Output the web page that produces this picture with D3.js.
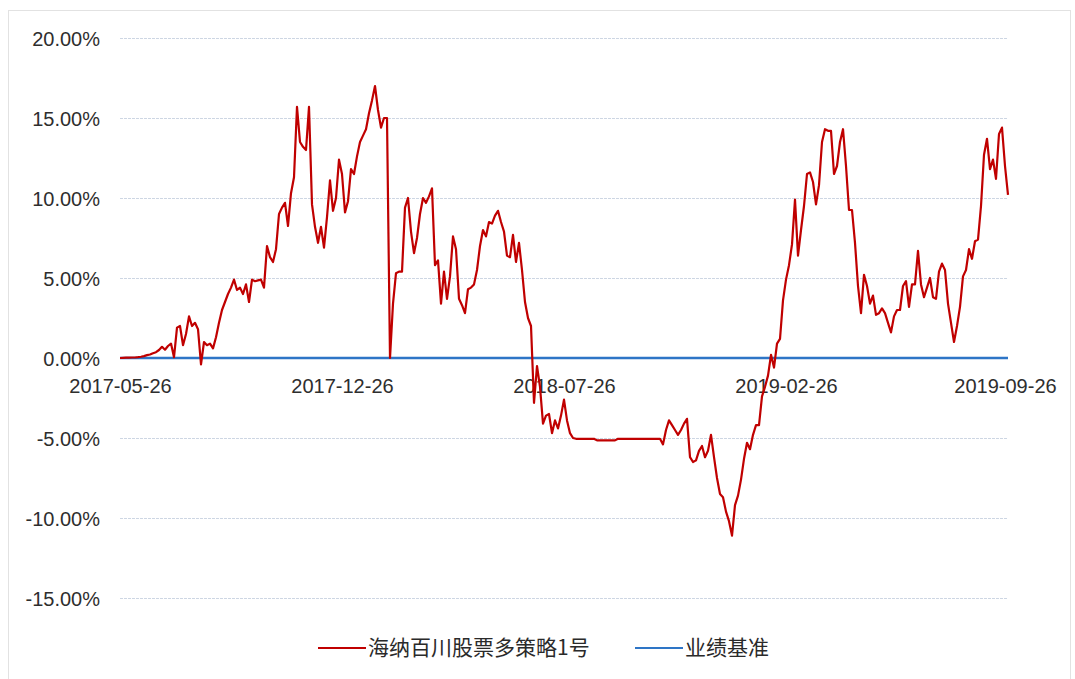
<!DOCTYPE html>
<meta charset="utf-8">
<script src="https://d3js.org/d3.v7.min.js"></script>
<style>
  body { margin: 0; background: #fff; }
  .tick text { font-family: "Liberation Sans", Arial, sans-serif; fill: #2e2e2e; }
</style>
<div id="my_dataviz"></div>
<script>

// fund cumulative return (%), one value per category step on the x axis
var fund = [
  0, 0.01, 0.02, 0.02, 0.03, 0.03, 0.05, 0.08, 0.12, 0.18,
  0.22, 0.3, 0.36, 0.5, 0.7, 0.52, 0.75, 0.9, 0.05, 1.9,
  2.0, 0.8, 1.5, 2.6, 2.0, 2.2, 1.8, -0.4, 1.0, 0.8,
  0.9, 0.6, 1.3, 2.2, 3.0, 3.5, 4.0, 4.4, 4.9, 4.25,
  4.4, 4.0, 4.6, 3.5, 4.9, 4.8, 4.85, 4.9, 4.4, 7.0,
  6.3, 6.0, 6.8, 9.0, 9.4, 9.7, 8.25, 10.3, 11.3, 15.7,
  13.5, 13.2, 13.0, 15.7, 9.6, 8.2, 7.2, 8.2, 6.9, 8.8,
  11.1, 9.2, 10.0, 12.4, 11.5, 9.1, 9.8, 11.8, 11.5, 12.6,
  13.5, 13.9, 14.3, 15.3, 16.1, 17.0, 15.5, 14.4, 15.0, 15.0,
  0.0, 3.4, 5.3, 5.4, 5.4, 9.4, 10.0, 7.9, 6.55, 7.5,
  9.0, 10.0, 9.7, 10.1, 10.6, 5.8, 6.1, 3.4, 5.4, 3.7,
  5.1, 7.6, 6.8, 3.7, 3.3, 2.8, 4.3, 4.4, 4.6, 5.5,
  7.0, 8.0, 7.6, 8.5, 8.4, 8.9, 9.2, 8.5, 7.9, 6.4,
  6.3, 7.7, 6.0, 7.2, 5.5, 3.5, 2.5, 2.0, -2.8, -0.5,
  -1.8, -4.1, -3.6, -3.5, -4.7, -3.9, -4.4, -3.6, -2.6, -3.9,
  -4.7, -5.0, -5.05, -5.05, -5.05, -5.05, -5.05, -5.05, -5.05, -5.15,
  -5.15, -5.15, -5.15, -5.15, -5.15, -5.15, -5.05, -5.05, -5.05, -5.05,
  -5.05, -5.05, -5.05, -5.05, -5.05, -5.05, -5.05, -5.05, -5.05, -5.05,
  -5.05, -5.4, -4.5, -3.9, -4.2, -4.5, -4.8, -4.5, -4.1, -3.8,
  -6.2, -6.5, -6.4, -5.8, -5.5, -6.2, -5.8, -4.8, -6.2, -7.5,
  -8.5, -8.7, -9.6, -10.2, -11.1, -9.2, -8.6, -7.6, -6.3, -5.3,
  -5.7, -4.8, -4.2, -4.2, -2.4, -1.8, -1.1, 0.2, -0.6, 0.9,
  1.2, 3.6, 4.9, 5.8, 7.1, 9.9, 6.4, 8.0, 9.5, 11.5,
  11.6, 11.0, 9.6, 10.8, 13.5, 14.3, 14.2, 14.2, 11.5, 12.0,
  13.5, 14.3, 12.0, 9.25, 9.25, 7.2, 4.5, 2.8, 5.2, 4.5,
  3.4, 3.9, 2.7, 2.8, 3.1, 2.8, 2.2, 1.6, 2.6, 3.0,
  3.0, 4.5, 4.8, 3.2, 4.6, 4.6, 6.7, 4.6, 3.8, 4.4,
  5.0, 3.8, 3.7, 5.4, 5.9, 5.5, 3.4, 2.2, 1.0, 2.0,
  3.2, 5.1, 5.5, 6.8, 6.2, 7.3, 7.4, 9.5, 12.7, 13.7,
  11.8, 12.4, 11.2, 14.0, 14.4, 12.0, 10.2
];

// benchmark stays at 0.00% the whole period
var benchmarkValue = 0;

// x axis labels and the category index they sit on
var xLabels = ["2017-05-26", "2017-12-26", "2018-07-26", "2019-02-26", "2019-09-26"];
var xLabelIndex = [0, 74, 148, 222, 295];

var yTicks = [-15, -10, -5, 0, 5, 10, 15, 20];

var seriesNames = ["海纳百川股票多策略1号", "业绩基准"];
var seriesColors = ["#c00000", "#2e75c6"];

var width = 1075, height = 679;

// plain hyphen for negatives, like the original
var pct = d3.formatLocale({decimal: ".", thousands: ",", grouping: [3], currency: ["", ""], minus: "-"}).format(".2f");

var svg = d3.select("#my_dataviz")
  .append("svg")
    .attr("width", width)
    .attr("height", height);

// faint chart frame
svg.append("rect")
  .attr("x", 8.5).attr("y", 10.5)
  .attr("width", 1062).attr("height", 680)
  .attr("fill", "none")
  .attr("stroke", "#e2e2e2");

var x = d3.scaleLinear()
  .domain([0, fund.length - 1])
  .range([120, 1008]);

var y = d3.scaleLinear()
  .domain([-15, 20])
  .range([598, 38]);

// gridlines
svg.append("g")
  .attr("transform", "translate(120,0)")
  .call(d3.axisLeft(y).tickValues(yTicks).tickSize(-888).tickFormat(""))
  .call(g => g.select(".domain").remove())
  .call(g => g.selectAll("line").attr("stroke", "#cdd6e3").attr("stroke-dasharray", "3,1"));

// y axis labels
svg.append("g")
  .attr("transform", "translate(100,0)")
  .call(d3.axisLeft(y).tickValues(yTicks).tickSize(0).tickPadding(0)
    .tickFormat(d => pct(d) + "%"))
  .call(g => g.select(".domain").remove())
  .call(g => g.selectAll("text").style("font-size", "20px").attr("dy", "0.35em"));

// x axis labels sit just under the zero line
svg.append("g")
  .attr("transform", "translate(0," + y(0) + ")")
  .call(d3.axisBottom(x).tickValues(xLabelIndex).tickSize(0).tickPadding(21)
    .tickFormat((d, i) => xLabels[i]))
  .call(g => g.select(".domain").remove())
  .call(g => g.selectAll("text").style("font-size", "20px"));

// benchmark line
svg.append("path")
  .datum(fund)
  .attr("fill", "none")
  .attr("stroke", seriesColors[1])
  .attr("stroke-width", 2.5)
  .attr("d", d3.line().x((d, i) => x(i)).y(() => y(benchmarkValue)));

// fund line
svg.append("path")
  .datum(fund)
  .attr("fill", "none")
  .attr("stroke", seriesColors[0])
  .attr("stroke-width", 2.2)
  .attr("stroke-linejoin", "round")
  .attr("d", d3.line().x((d, i) => x(i)).y(d => y(d)));

// legend
var legendX = [318, 635];
var legend = svg.append("g")
  .selectAll("g")
  .data(seriesNames)
  .enter().append("g")
    .attr("transform", (d, i) => "translate(" + legendX[i] + ",648)");

legend.append("line")
  .attr("x1", 0).attr("x2", 48)
  .attr("stroke", (d, i) => seriesColors[i])
  .attr("stroke-width", 2);

legend.append("text")
  .attr("x", 50)
  .attr("dy", "0.35em")
  .style("font-family", "'Noto Sans CJK SC', sans-serif")
  .style("font-size", "21px")
  .attr("fill", "#2a2a2a")
  .text(d => d);

</script>
